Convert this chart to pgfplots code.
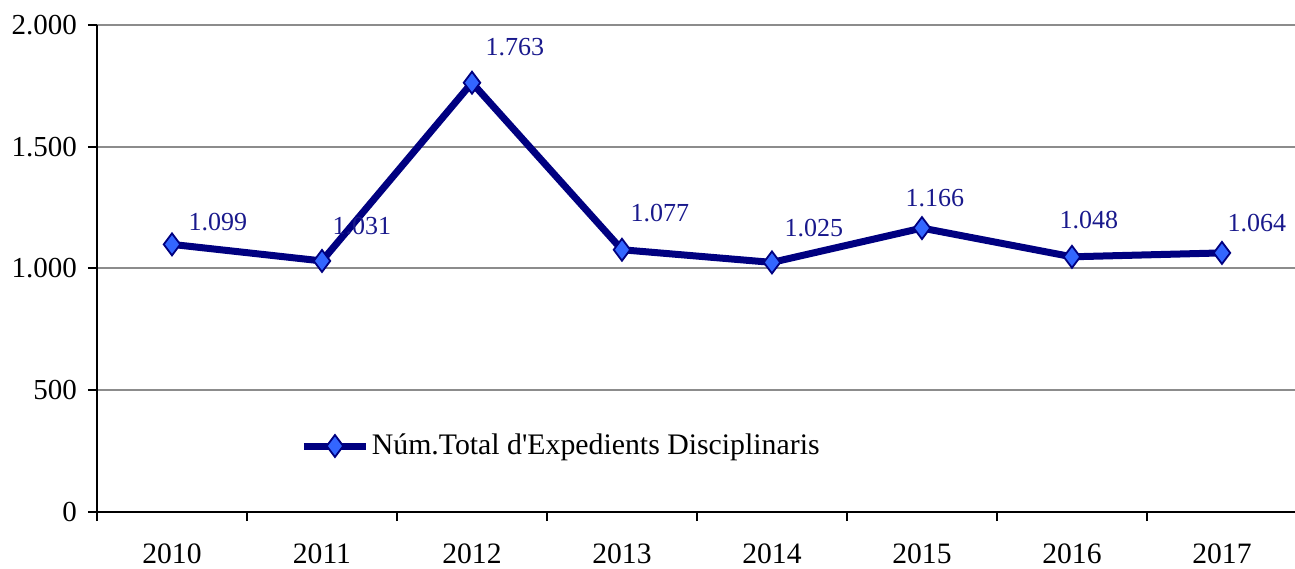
\documentclass[border=0pt]{standalone}
\usepackage{pgfplots}
\pgfplotsset{compat=1.18}
\usepackage{pgfplotstable}
\usepackage{fontspec}
\setmainfont{Liberation Serif}
\definecolor{navyline}{RGB}{0,0,128}
\definecolor{markfill}{RGB}{51,102,255}
\definecolor{labcol}{RGB}{25,25,140}
\pgfplotstableread{
x y dx dy
0 1099 23 11
1 1031 20 17.5
2 1763 21.5 18
3 1077 19 18.5
4 1025 21 17
5 1166 6.5 15
6 1048 8.5 18.5
7 1064 17.5 15
}\datatab
\begin{document}
\begin{tikzpicture}
\begin{axis}[
  at={(0,0)}, anchor=south west,
  scale only axis, width=599bp, height=243.5bp,
  xmin=-0.5, xmax=7.487, ymin=0, ymax=2000,
  axis x line*=bottom, axis y line*=left,
  axis line style={black, line width=1bp, -},
  xtick={0,...,7},
  xticklabels={2010,2011,2012,2013,2014,2015,2016,2017},
  minor xtick={-0.5,0.5,1.5,2.5,3.5,4.5,5.5,6.5},
  x tick style={draw=none},
  minor x tick style={draw=black, line width=1bp},
  minor tick length=4.5bp,
  ytick={0,500,1000,1500,2000},
  y tick style={black, line width=1bp},
  major tick length=4.5bp,
  tick align=outside,
  ymajorgrids, grid style={draw=gray!90, line width=1bp},
  /pgf/number format/assume math mode=true,
  /pgf/number format/1000 sep={.},
  yticklabel style={font=\fontsize{14.5bp}{16bp}\selectfont, xshift=-2bp},
  xticklabel style={font=\fontsize{14.8bp}{16bp}\selectfont, yshift=-8bp},
  clip=false,
  legend style={at={(rel axis cs:0.1695,0.1355)}, anchor=west, draw=none, fill=none,
    font=\fontsize{14.9bp}{16bp}\selectfont, inner xsep=0pt,
    /tikz/every even column/.append style={column sep=0pt},
    nodes={inner xsep=1.2bp}},
  legend cell align=left,
  legend image code/.code={\draw[mark repeat=2,mark phase=2] plot coordinates {(0bp,0bp)(15.5bp,0bp)(31bp,0bp)};},
  nodes near coords,
  point meta=explicit,
  visualization depends on={\thisrow{dx}\as\dx},
  visualization depends on={\thisrow{dy}\as\dy},
  every node near coord/.style={anchor=center, xshift=\dx bp, yshift=\dy bp,
    text=labcol, font=\fontsize{13bp}{14bp}\selectfont,
    /pgf/number format/1000 sep={.}, /pgf/number format/assume math mode=true},
]
\addplot[navyline, line width=3.5bp, mark=diamond*, mark size=5.5bp,
  mark options={fill=markfill, draw=navyline, line width=0.9bp}]
  table[x=x, y=y, meta=y] {\datatab};
\addlegendentry{Núm.Total d\textquotesingle Expedients Disciplinaris}
\end{axis}
\pgfresetboundingbox
\path (-48.5bp,-28.5bp) rectangle (599bp,256bp);
\end{tikzpicture}
\end{document}
